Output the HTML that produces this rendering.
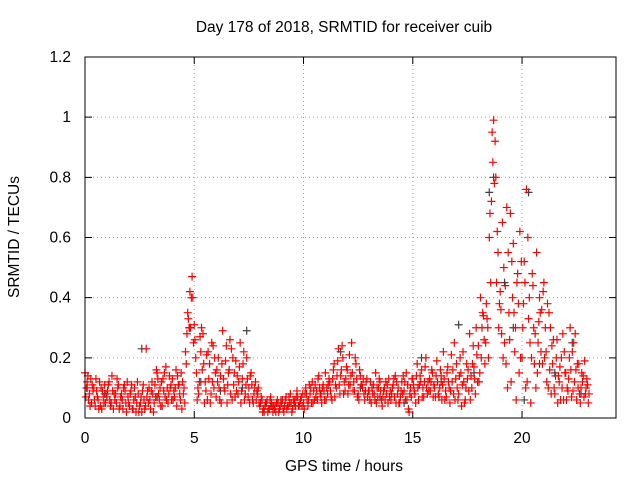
<!DOCTYPE html>
<html><head><meta charset="utf-8"><style>
body{margin:0;background:#fff;}
svg{display:block;font-family:"Liberation Sans",sans-serif;}
</style></head><body>
<svg id="chart" width="640" height="480" viewBox="0 0 640 480" xmlns="http://www.w3.org/2000/svg">
<rect width="640" height="480" fill="#fff"/>
<text x="344" y="32" text-anchor="middle" font-size="15.5">Day 178 of 2018, SRMTID for receiver cuib</text>
<text x="344" y="471" text-anchor="middle" font-size="15.5">GPS time / hours</text>
<text x="19" y="237" text-anchor="middle" font-size="15.5" transform="rotate(-90 19 237)">SRMTID / TECUs</text>
<g id="grid"></g><g id="ticks"></g><g id="marks"></g>
<rect x="85" y="57" width="531" height="361" fill="none" stroke="#000" stroke-width="1"/>
</svg>
<script>
const xTicks=[0,5,10,15,20];
const yTicks=[0,0.2,0.4,0.6,0.8,1,1.2];
const yTickLabels=["0","0.2","0.4","0.6","0.8","1","1.2"];
const redA=[.15,.12,.08,.05,.10,.13,.06,.04,.09,.11,.07,.12,.05,.03,.08,.10,.04,.06,.11,.02,.05,.09,.03,.07,.12,.04,.02,.06,.23,.05,.03,.08,.11,.15,.06,.12,.09,.17,.05,.10,.13,.07,.04,.11,.15,.08,.22,.35,.42,.47,.31,.15,.08,.22,.28,.12,.06,.18,.25,.10,.07,.20,.14,.29,.09,.05,.16,.23,.11,.19,.08,.25,.13,.06,.20,.10,.15,.05,.12,.08,.04,.06,.02,.05,.03,.07,.02,.04,.06,.03,.05,.02,.07,.04,.08,.03,.06,.09,.04,.07,.05,.10,.04,.08,.12,.06,.09,.14,.07,.11,.15,.08,.12,.06,.18,.10,.23,.14,.20,.09,.16,.21,.25,.12,.18,.08,.14,.10,.06,.13,.09,.05,.11,.15,.07,.12,.04,.10,.08,.13,.06,.11,.14,.08,.05,.12,.09,.15,.03,.10,.13,.08,.18,.11,.16,.07,.20,.12,.09,.15,.10,.19,.07,.14,.22,.09,.17,.05,.12,.25,.18,.08,.15,.22,.06,.13,.28,.10,.17,.30,.24,.40,.35,.18,.33,.60,.72,.99,.80,.55,.42,.65,.25,.70,.35,.12,.58,.30,.48,.62,.20,.52,.76,.33,.05,.44,.28,.15,.40,.36,.45,.22,.10,.30,.18,.08,.26,.12,.20,.06,.15,.09,.30,.22,.12,.06,.18,.10,.14,.08,.11];
const redB=[.10,.06,.13,.09,.04,.07,.12,.03,.05,.08,.11,.04,.09,.06,.13,.03,.08,.10,.05,.07,.08,.03,.10,.05,.02,.07,.11,.04,.09,.06,.12,.05,.16,.08,.04,.13,.07,.10,.14,.06,.09,.16,.11,.06,.12,.05,.28,.30,.40,.25,.20,.10,.27,.16,.05,.21,.13,.08,.24,.15,.12,.06,.18,.10,.24,.15,.08,.20,.07,.14,.17,.09,.22,.11,.07,.14,.06,.10,.09,.05,.07,.03,.05,.02,.06,.04,.03,.05,.02,.06,.03,.06,.04,.05,.02,.05,.07,.04,.06,.08,.08,.06,.11,.05,.09,.07,.13,.08,.10,.06,.10,.13,.07,.16,.11,.19,.08,.24,.12,.17,.11,.14,.09,.20,.07,.16,.11,.08,.12,.09,.12,.08,.06,.10,.13,.06,.09,.12,.05,.09,.10,.07,.12,.05,.09,.14,.06,.11,.08,.13,.09,.14,.06,.12,.10,.17,.08,.13,.16,.11,.14,.08,.16,.11,.06,.15,.10,.21,.08,.13,.06,.20,.11,.05,.18,.09,.14,.24,.08,.12,.15,.30,.26,.38,.20,.45,.85,.92,.62,.38,.28,.50,.18,.55,.68,.40,.22,.45,.15,.52,.38,.10,.60,.25,.48,.18,.55,.32,.22,.42,.30,.38,.16,.24,.10,.20,.14,.06,.28,.15,.10,.20,.07,.25,.16,.10,.05,.12,.19,.13,.08];
const redC=[.07,.14,.04,.11,.06,.09,.03,.10,.07,.05,.09,.06,.14,.08,.05,.11,.07,.03,.09,.12,.04,.11,.06,.02,.08,.05,.09,.03,.07,.10,.09,.02,.07,.13,.10,.04,.15,.06,.08,.11,.06,.10,.14,.08,.03,.10,.18,.33,.30,.40,.26,.06,.12,.30,.18,.09,.22,.05,.12,.20,.16,.10,.05,.13,.19,.11,.26,.06,.15,.09,.12,.05,.18,.08,.13,.05,.11,.08,.06,.10,.05,.02,.04,.06,.03,.05,.04,.02,.05,.04,.06,.04,.03,.07,.05,.06,.04,.07,.05,.04,.03,.08,.06,.10,.05,.11,.06,.10,.05,.09,.06,.11,.09,.13,.07,.14,.11,.16,.08,.13,.08,.11,.15,.09,.13,.06,.11,.13,.09,.07,.06,.10,.08,.05,.10,.09,.07,.06,.11,.07,.08,.13,.05,.10,.07,.08,.12,.06,.02,.07,.11,.05,.10,.14,.07,.12,.10,.09,.12,.07,.07,.12,.10,.06,.13,.07,.12,.09,.16,.06,.10,.14,.04,.12,.10,.16,.06,.18,.13,.21,.12,.20,.34,.25,.30,.68,.95,.78,.45,.30,.36,.20,.44,.10,.26,.52,.35,.06,.38,.20,.30,.45,.12,.40,.20,.30,.10,.25,.35,.18,.20,.12,.35,.08,.26,.14,.05,.17,.10,.22,.06,.13,.16,.09,.28,.18,.08,.15,.07,.10,.05];
const darkTimes=[0.1,0.9,1.7,2.6,3.3,4.8,5.3,6.2,7.2,7.4,8.5,9.6,10.8,11.7,12.6,13.5,14.6,15.4,16.3,17.1,17.8,18.5,18.7,19.2,19.6,20.1,20.3,20.8,21.5,22.3,22.7];
const darkValues=[.10,.08,.06,.23,.07,.30,.12,.09,.10,.29,.04,.05,.08,.22,.10,.07,.05,.20,.12,.31,.15,.75,.80,.45,.30,.06,.75,.18,.15,.25,.08];

const NS="http://www.w3.org/2000/svg";
const X0=85,X1=616,Y0=418,Y1=57,XMAX=24.3,YMAX=1.2;
function xs(t){return X0+(X1-X0)*t/XMAX;}
function ys(v){return Y0-(Y0-Y1)*v/YMAX;}
const grid=document.getElementById('grid'),ticks=document.getElementById('ticks'),marks=document.getElementById('marks');
function mk(tag,attrs,parent){const e=document.createElementNS(NS,tag);for(const k in attrs)e.setAttribute(k,attrs[k]);parent.appendChild(e);return e;}
xTicks.forEach(t=>{
  const x=xs(t);
  if(t>0){const g=mk('line',{x1:x,x2:x,y1:Y1,y2:Y0,stroke:'#a0a0a0','stroke-dasharray':'1,3'},grid);
  
  }
  const tk=mk('path',{d:`M${x},${Y0}v-7M${x},${Y1}v7`,stroke:'#000'},ticks);
  
  
  const lb=mk('text',{x:x,y:443,'text-anchor':'middle','font-size':'15.5'},ticks);
  lb.textContent=String(t);
  
  
});
yTicks.forEach((v,i)=>{
  const y=ys(v);
  if(v>0&&v<YMAX){const g=mk('line',{x1:X0,x2:X1,y1:y,y2:y,stroke:'#a0a0a0','stroke-dasharray':'1,3'},grid);
  
  }
  const tk=mk('path',{d:`M${X0},${y}h7M${X1},${y}h-7`,stroke:'#000'},ticks);
  
  
  const lb=mk('text',{x:71,y:y+5,'text-anchor':'end','font-size':'15.5'},ticks);
  lb.textContent=yTickLabels[i];
  
  
});
function plus(t,v,color,name){
  const x=xs(t),y=ys(v);
  const p=mk('path',{d:`M${x-4},${y}h8M${x},${y-4}v8`,stroke:color,'stroke-width':'1.2',fill:'none'},marks);
  
  
}
darkTimes.forEach((t,i)=>plus(t,darkValues[i],'#404040','dark-point'));
redA.forEach((v,i)=>plus(i*0.1,v,'#ff0000','red-point'));
redC.forEach((v,i)=>plus(i*0.1+0.033,v,'#ff0000','red-point'));
redB.forEach((v,i)=>plus(i*0.1+0.066,v,'#ff0000','red-point'));
</script>
</body></html>
